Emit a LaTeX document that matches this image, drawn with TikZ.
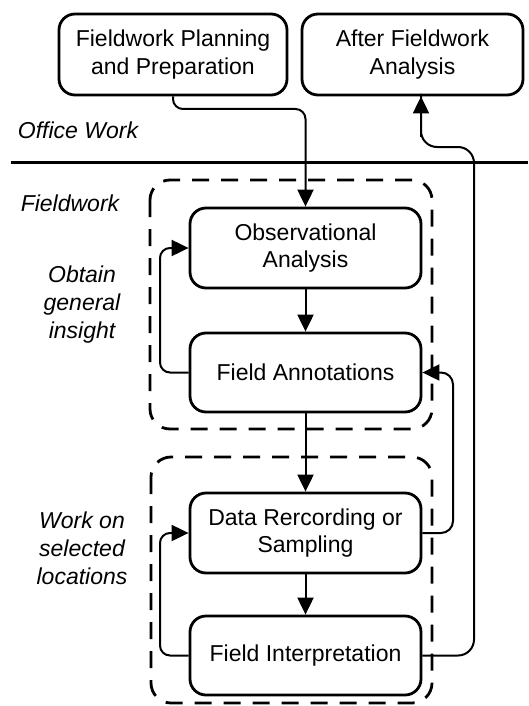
\documentclass[tikz,border=0pt]{standalone}
\usepackage{fontspec}
\setmainfont{Liberation Sans}
\usetikzlibrary{arrows.meta}
\begin{document}
\begin{tikzpicture}[x=1pt,y=-1pt,
  every node/.style={font=\fontsize{23}{27.5}\selectfont, inner sep=0pt},
  proc/.style={draw, line width=2.8pt, rounded corners=16pt, align=center,
    minimum width=231pt, minimum height=80pt},
  lbl/.style={font=\fontsize{23}{28}\selectfont\itshape, align=center},
  conn/.style={line width=2pt, -{Triangle[length=17pt,width=16pt]}},
  plain/.style={line width=2pt},
  group/.style={line width=2.8pt, rounded corners=20pt, dash pattern=on 17pt off 12pt}]
\useasboundingbox (0,0) rectangle (528,706);

% office work boxes
\node[proc, minimum width=228pt, minimum height=81pt] (plan) at (173,54.5)
  {Fieldwork Planning\\and Preparation};
\node[proc, minimum width=221pt, minimum height=81pt] (after) at (412.5,54.5)
  {After Fieldwork\\Analysis};

% separator between office work and fieldwork
\draw[line width=2.8pt] (11,162.5) -- (528,162.5);

% section labels
\node[lbl] (office) at (78,130) {Office Work};
\node[lbl] (field) at (70,203) {Fieldwork};
\node[lbl] (insight) at (82,305) {Obtain\\general\\insight};
\node[lbl] (selected) at (82,548) {Work on\\selected\\locations};

% dashed groups
\draw[group] (150,180) rectangle (432,429);
\draw[group] (151,457) rectangle (432,703);

% fieldwork steps
\node[proc] (obs) at (305.5,248) {Observational\\Analysis};
\node[proc, minimum height=79pt] (fa) at (305.5,372.5) {Field Annotations};
\node[proc] (dr) at (305.5,533) {Data Rercording or\\Sampling};
\node[proc, minimum height=79pt] (fi) at (305.5,655.5) {Field Interpretation};

% connectors
\coordinate (pturn) at (305.5,109);
\draw[conn, rounded corners=10pt] (plan.south) |- (pturn) -- (obs.north);
\draw[conn] (obs.south) -- (fa.north);
\draw[conn] (fa.south) -- (dr.north);
\draw[conn] (dr.south) -- (fi.north);

\coordinate (loopA) at (160,372.5);
\coordinate (loopB) at (160,248);
\draw[conn, rounded corners=10pt] (fa.west) -- (loopA) -- (loopB) -- (obs.west);
\coordinate (loopC) at (160,655.5);
\coordinate (loopD) at (160,533);
\draw[conn, rounded corners=10pt] (fi.west) -- (loopC) -- (loopD) -- (dr.west);

\coordinate (backA) at (453,533);
\coordinate (backB) at (453,372.5);
\draw[conn, rounded corners=12pt] (dr.east) -- (backA) -- (backB) -- (fa.east);

\coordinate (outA) at (474,655.5);
\coordinate (outB) at (474,147);
\coordinate (outC) at (421,147);
\coordinate (outD) at (421,94);
\draw[plain, rounded corners=16pt] (fi.east) -- (outA) -- (outB) -- (outC) -- (outD);
\draw[conn] (outC) ++(0,-10) -- (after.south -| outC);
\end{tikzpicture}
\end{document}
